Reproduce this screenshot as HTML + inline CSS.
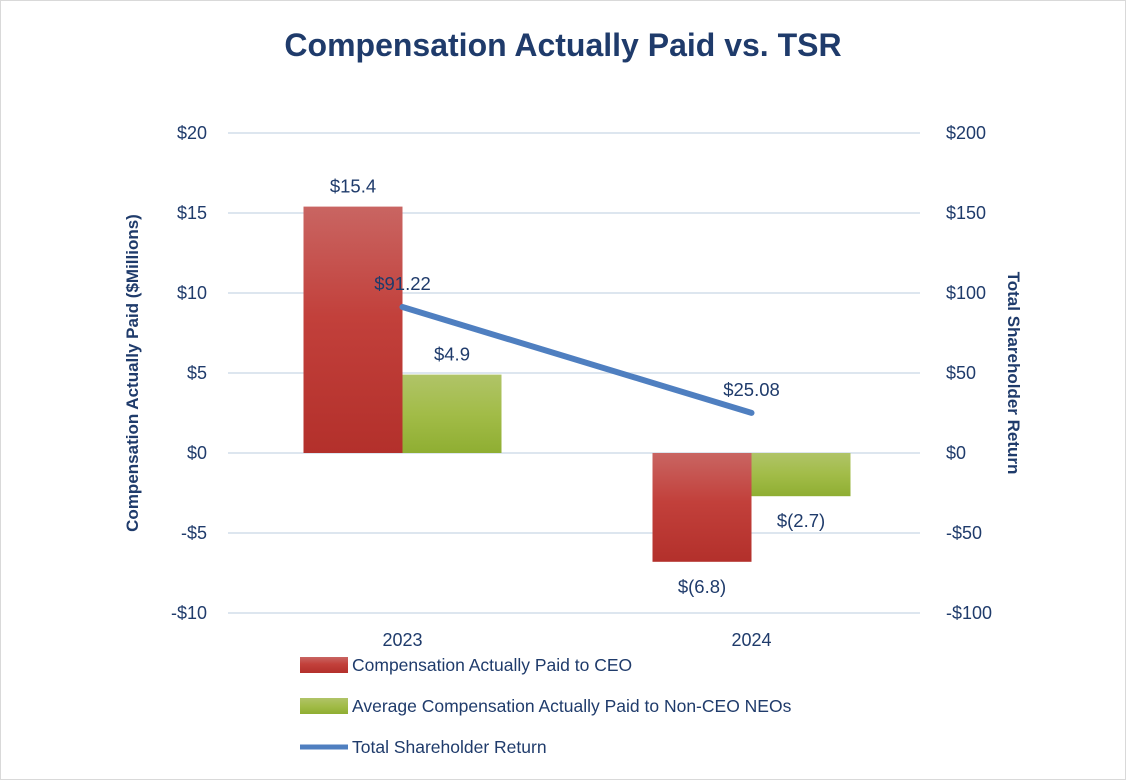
<!DOCTYPE html>
<html><head><meta charset="utf-8"><style>
html,body{margin:0;padding:0;background:#fff}
svg{display:block;font-family:"Liberation Sans",sans-serif}
</style></head><body>
<svg id="chart" width="1126" height="780" viewBox="0 0 1126 780">
<defs>
<linearGradient id="gRed" x1="0" y1="0" x2="0" y2="1"><stop offset="0" stop-color="#c96562"/><stop offset="0.45" stop-color="#c2403b"/><stop offset="1" stop-color="#b3302b"/></linearGradient>
<linearGradient id="gGreen" x1="0" y1="0" x2="0" y2="1"><stop offset="0" stop-color="#b0c468"/><stop offset="0.5" stop-color="#a2bc48"/><stop offset="1" stop-color="#8fae32"/></linearGradient>
</defs>
<rect x="0.5" y="0.5" width="1125" height="779" fill="#fff" stroke="#d9d9d9"/>
<text x="563" y="56" text-anchor="middle" font-size="32" font-weight="bold" fill="#1f3b6b">Compensation Actually Paid vs. TSR</text>
<g id="grid"></g><g id="bars"></g><g id="line"></g><g id="labels"></g>
<text transform="translate(138,373) rotate(-90)" text-anchor="middle" font-size="17" font-weight="bold" fill="#1f3b6b">Compensation Actually Paid ($Millions)</text>
<text transform="translate(1008,373) rotate(90)" text-anchor="middle" font-size="17" font-weight="bold" fill="#1f3b6b">Total Shareholder Return</text>
<g>
<rect x="300" y="657" width="48" height="16" fill="url(#gRed)"/>
<text x="352" y="671" font-size="17.5" fill="#1f3b6b">Compensation Actually Paid to CEO</text>
<rect x="300" y="698" width="48" height="16" fill="url(#gGreen)"/>
<text x="352" y="712" font-size="17.5" fill="#1f3b6b">Average Compensation Actually Paid to Non-CEO NEOs</text>
<line x1="300" y1="747" x2="348" y2="747" stroke="#4f7fc0" stroke-width="5"/>
<text x="352" y="753" font-size="17.5" fill="#1f3b6b">Total Shareholder Return</text>
</g>
</svg>
<script>
const categories=["2023","2024"];
const ceoValues=[15.4,-6.8];
const neoValues=[4.9,-2.7];
const tsrValues=[91.22,25.08];
const ceoLabels=["$15.4","$(6.8)"];
const neoLabels=["$4.9","$(2.7)"];
const tsrLabels=["$91.22","$25.08"];
const leftTicks=[-10,-5,0,5,10,15,20];
const leftTickLabels=["-$10","-$5","$0","$5","$10","$15","$20"];
const rightTicks=[-100,-50,0,50,100,150,200];
const rightTickLabels=["-$100","-$50","$0","$50","$100","$150","$200"];

const NS="http://www.w3.org/2000/svg";
const X0=228,X1=926,Ytop=133,Ybot=613;
const yL=v=>Ybot-(v+10)/30*(Ybot-Ytop);
const yR=v=>Ybot-(v+100)/300*(Ybot-Ytop);
const catW=(X1-X0)/categories.length;
const cx=i=>X0+catW*(i+0.5);
const barW=99;
function mk(tag,attrs,parent,txt){const e=document.createElementNS(NS,tag);for(const k in attrs)e.setAttribute(k,attrs[k]);if(txt!==undefined)e.textContent=txt;document.getElementById(parent).appendChild(e);return e;}
leftTicks.forEach((t,i)=>{
 const g=mk('line',{x1:X0,x2:X1-6,y1:yL(t),y2:yL(t),stroke:'#dde6ef','stroke-width':2},'grid');
 
 
 const l=mk('text',{x:207,y:yL(t)+6,'text-anchor':'end','font-size':18,fill:'#1f3b6b'},'grid',leftTickLabels[i]);
 
 
});
rightTicks.forEach((t,i)=>{
 const l=mk('text',{x:946,y:yR(t)+6,'font-size':18,fill:'#1f3b6b'},'grid',rightTickLabels[i]);
 
 
});
categories.forEach((c,i)=>{
 const x=cx(i);
 const cl=mk('text',{x:x,y:646,'text-anchor':'middle','font-size':18,fill:'#1f3b6b'},'labels',c);
 
 
 const v1=ceoValues[i],v2=neoValues[i];
 const b1=mk('rect',{x:x-barW,y:Math.min(yL(v1),yL(0)),width:barW,height:Math.abs(yL(v1)-yL(0)),fill:'url(#gRed)'},'bars');
 
 
 const b2=mk('rect',{x:x,y:Math.min(yL(v2),yL(0)),width:barW,height:Math.abs(yL(v2)-yL(0)),fill:'url(#gGreen)'},'bars');
 
 
 const ly1=v1>=0?yL(v1)-14:yL(v1)+31;
 const t1=mk('text',{x:x-barW/2,y:ly1,'text-anchor':'middle','font-size':18.5,fill:'#1f3b6b'},'labels',ceoLabels[i]);
 
 
 const ly2=v2>=0?yL(v2)-14:yL(v2)+31;
 const t2=mk('text',{x:x+barW/2,y:ly2,'text-anchor':'middle','font-size':18.5,fill:'#1f3b6b'},'labels',neoLabels[i]);
 
 
 const t3=mk('text',{x:x,y:yR(tsrValues[i])-17,'text-anchor':'middle','font-size':18.5,fill:'#1f3b6b'},'labels',tsrLabels[i]);
 
 
});
const pts=tsrValues.map((v,i)=>cx(i)+','+yR(v)).join(' ');
const pl=mk('polyline',{points:pts,fill:'none',stroke:'#4f7fc0','stroke-width':6,'stroke-linecap':'round'},'line');


</script>
</body></html>
